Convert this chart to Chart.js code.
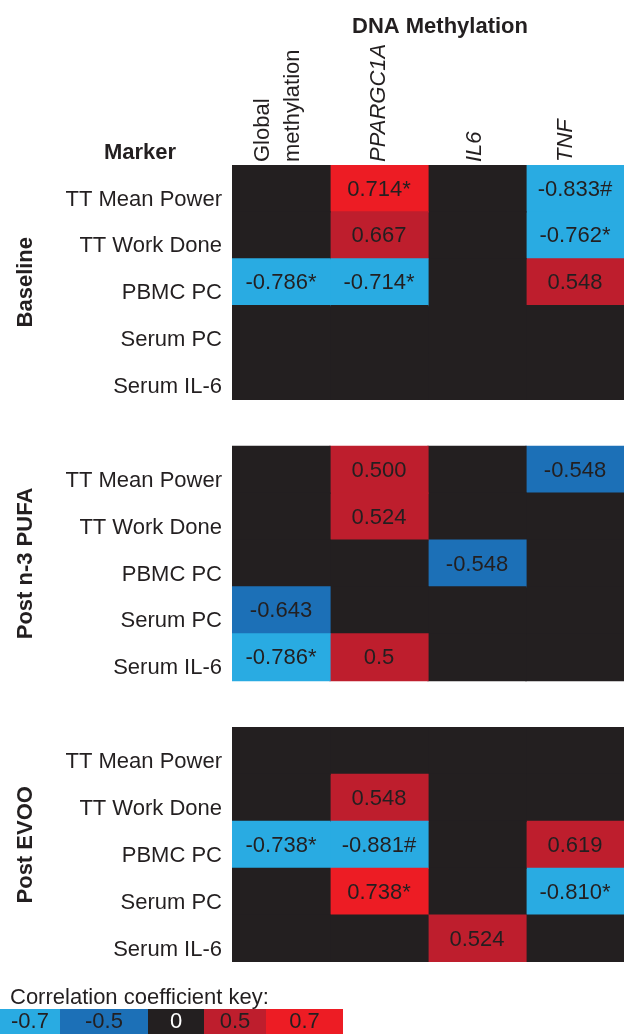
<!DOCTYPE html>
<html>
<head>
<meta charset="utf-8">
<script src="https://cdn.jsdelivr.net/npm/chart.js@4"></script>
<style>
  body { margin: 0; background: #fff; }
  #wrap { width: 624px; height: 1034px; position: relative; }
</style>
</head>
<body>
<div id="wrap"><canvas id="heat"></canvas></div>
<script>
// columns (DNA methylation targets)
const columns = ["Global methylation", "PPARGC1A", "IL6", "TNF"];
const markers = ["TT Mean Power", "TT Work Done", "PBMC PC", "Serum PC", "Serum IL-6"];
const panels = ["Baseline", "Post n-3 PUFA", "Post EVOO"];

// correlation values per panel, row = marker, col = column (null = not significant)
const baselineVals = [
  [null, 0.714, null, -0.833],
  [null, 0.667, null, -0.762],
  [-0.786, -0.714, null, 0.548],
  [null, null, null, null],
  [null, null, null, null]
];
const baselineText = [
  [null, "0.714*", null, "-0.833#"],
  [null, "0.667", null, "-0.762*"],
  ["-0.786*", "-0.714*", null, "0.548"],
  [null, null, null, null],
  [null, null, null, null]
];
const pufaVals = [
  [null, 0.500, null, -0.548],
  [null, 0.524, null, null],
  [null, null, -0.548, null],
  [-0.643, null, null, null],
  [-0.786, 0.5, null, null]
];
const pufaText = [
  [null, "0.500", null, "-0.548"],
  [null, "0.524", null, null],
  [null, null, "-0.548", null],
  ["-0.643", null, null, null],
  ["-0.786*", "0.5", null, null]
];
const evooVals = [
  [null, null, null, null],
  [null, 0.548, null, null],
  [-0.738, -0.881, null, 0.619],
  [null, 0.738, null, -0.810],
  [null, null, 0.524, null]
];
const evooText = [
  [null, null, null, null],
  [null, "0.548", null, null],
  ["-0.738*", "-0.881#", null, "0.619"],
  [null, "0.738*", null, "-0.810*"],
  [null, null, "0.524", null]
];

// colour key
const keyLabels = ["-0.7", "-0.5", "0", "0.5", "0.7"];
const keyColors = ["#29abe2", "#1c70b7", "#231f20", "#be1e2d", "#ed1c24"];

const FONT = "'Liberation Sans', Arial, sans-serif";
const INK = "#231f20";

function colorFor(v) {
  if (v === null) return keyColors[2];
  if (v <= -0.7) return keyColors[0];
  if (v < 0) return keyColors[1];
  if (v >= 0.7) return keyColors[4];
  return keyColors[3];
}

// build the row list: 5 rows per panel with a blank spacer row between panels
const panelVals = [baselineVals, pufaVals, evooVals];
const panelText = [baselineText, pufaText, evooText];
const rowKeys = [];
const rowVals = [];
const rowText = [];
panels.forEach((p, pi) => {
  if (pi > 0) { rowKeys.push("gap" + pi); rowVals.push(null); rowText.push(null); }
  markers.forEach((m, mi) => {
    rowKeys.push(p + "|" + m);
    rowVals.push(panelVals[pi][mi]);
    rowText.push(panelText[pi][mi]);
  });
});

const datasets = columns.map((c, ci) => ({
  label: c,
  data: rowVals.map(r => r === null ? null : [ci, ci + 1]),
  backgroundColor: rowVals.map(r => r === null ? "rgba(0,0,0,0)" : colorFor(r[ci])),
  borderWidth: 0,
  inflateAmount: 0.6,
  barPercentage: 1,
  categoryPercentage: 1,
  grouped: false
}));

const labelsPlugin = {
  id: "labels",
  afterDatasetsDraw(chart) {
    const ctx = chart.ctx;
    const xs = chart.scales.x, ys = chart.scales.y;
    ctx.save();
    ctx.fillStyle = INK;

    // cell values
    ctx.font = "22px " + FONT;
    ctx.textAlign = "center";
    ctx.textBaseline = "middle";
    rowText.forEach((r, ri) => {
      if (!r) return;
      r.forEach((t, ci) => {
        if (!t) return;
        ctx.fillText(t, xs.getPixelForValue(ci + 0.5), ys.getPixelForValue(ri) + 1);
      });
    });

    // row labels (sit a little below the row centre, as in the figure)
    ctx.textAlign = "right";
    rowKeys.forEach((k, ri) => {
      if (k.indexOf("|") < 0) return;
      ctx.fillText(k.split("|")[1], 222, ys.getPixelForValue(ri) + 11);
    });

    // panel labels (rotated, bold)
    panels.forEach((p, pi) => {
      const first = pi * 6, last = first + 4;
      const cy = (ys.getPixelForValue(first) + ys.getPixelForValue(last)) / 2;
      ctx.save();
      ctx.translate(26, cy);
      ctx.rotate(-Math.PI / 2);
      ctx.font = "bold 22px " + FONT;
      ctx.textAlign = "center";
      ctx.fillText(p, 0, 0);
      ctx.restore();
    });

    // column labels (rotated)
    const bottom = 162;
    const colLines = [["Global", "methylation"], ["PPARGC1A"], ["IL6"], ["TNF"]];
    const colShift = [-3, 0, -2, -9];
    colLines.forEach((lines, ci) => {
      const cx = xs.getPixelForValue(ci + 0.5);
      const italic = ci > 0;
      lines.forEach((line, li) => {
        ctx.save();
        const off = (li - (lines.length - 1) / 2) * 30 + colShift[ci];
        ctx.translate(cx + off, bottom);
        ctx.rotate(-Math.PI / 2);
        ctx.font = (italic ? "italic " : "") + "22px " + FONT;
        ctx.textAlign = "left";
        ctx.textBaseline = "middle";
        ctx.fillText(line, 0, 0);
        ctx.restore();
      });
    });

    // titles
    ctx.font = "bold 22px " + FONT;
    ctx.textAlign = "center";
    ctx.textBaseline = "middle";
    ctx.fillText("DNA Methylation", 440, 27);
    ctx.fillText("Marker", 140, 153);

    // key
    ctx.font = "22px " + FONT;
    ctx.textAlign = "left";
    ctx.fillText("Correlation coefficient key:", 10, 998);
    const kx = [0, 60, 148, 204, 266, 343];
    keyLabels.forEach((l, i) => {
      ctx.fillStyle = keyColors[i];
      ctx.fillRect(kx[i], 1009, kx[i + 1] - kx[i], 25);
      ctx.fillStyle = i === 2 ? "#ffffff" : INK;
      ctx.textAlign = "center";
      ctx.fillText(l, (kx[i] + kx[i + 1]) / 2, 1022);
    });
    ctx.restore();
  }
};

new Chart(document.getElementById("heat").getContext("2d"), {
  type: "bar",
  data: { labels: rowKeys, datasets: datasets },
  options: {
    indexAxis: "y",
    responsive: true,
    maintainAspectRatio: false,
    animation: false,
    layout: { padding: { left: 232, top: 165, right: 0, bottom: 72 } },
    scales: {
      x: { type: "linear", min: 0, max: 4, display: false },
      y: { type: "category", display: false }
    },
    plugins: { legend: { display: false }, tooltip: { enabled: false } }
  },
  plugins: [labelsPlugin]
});
</script>
</body>
</html>
